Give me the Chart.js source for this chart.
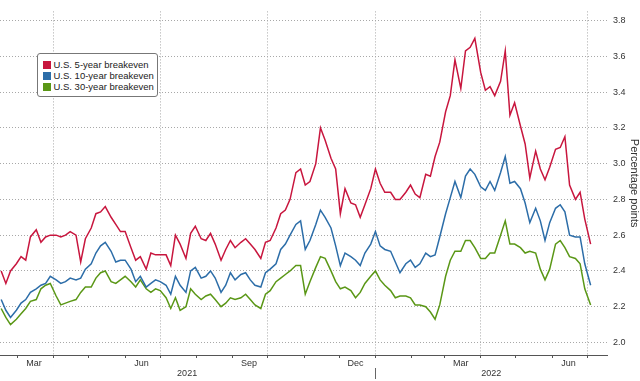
<!DOCTYPE html>
<html>
<head>
<meta charset="utf-8">
<script src="https://cdn.jsdelivr.net/npm/chart.js@4.4.1/dist/chart.umd.min.js"></script>
<style>
  html, body { margin: 0; padding: 0; background: #fff; }
  #wrap { position: relative; width: 640px; height: 381px; }
  #legend {
    position: absolute; left: 37px; top: 53px; width: 119px; height: 42px;
    border: 1px solid #777; border-radius: 3px; background: #fff;
    font-family: "Liberation Sans", Arial, sans-serif; font-size: 9.5px; color: #222;
  }
  #legend .item { position: absolute; left: 5px; height: 11px; line-height: 11px; white-space: nowrap; }
  #legend .sw { position: absolute; left: 0; top: 1.5px; width: 8px; height: 8px; }
  #legend .tx { position: absolute; left: 10.5px; top: 0; }
</style>
</head>
<body>
<div id="wrap">
  <canvas id="c" width="640" height="381"></canvas>
  <div id="legend"></div>
</div>
<script>
// ---- data ----
const dates = [
  '2021-02-15','2021-02-19','2021-02-23','2021-02-28','2021-03-04','2021-03-08','2021-03-12','2021-03-17','2021-03-21','2021-03-25',
  '2021-03-29','2021-04-03','2021-04-07','2021-04-11','2021-04-15','2021-04-20','2021-04-24','2021-04-28','2021-05-03','2021-05-07',
  '2021-05-11','2021-05-15','2021-05-20','2021-05-24','2021-05-28','2021-06-01','2021-06-06','2021-06-10','2021-06-14','2021-06-19',
  '2021-06-23','2021-06-27','2021-07-01','2021-07-06','2021-07-10','2021-07-14','2021-07-18','2021-07-23','2021-07-27','2021-07-31',
  '2021-08-05','2021-08-09','2021-08-13','2021-08-17','2021-08-22','2021-08-26','2021-08-30','2021-09-03','2021-09-08','2021-09-12',
  '2021-09-16','2021-09-20','2021-09-25','2021-09-29','2021-10-03','2021-10-08','2021-10-12','2021-10-16','2021-10-20','2021-10-25',
  '2021-10-29','2021-11-02','2021-11-06','2021-11-11','2021-11-15','2021-11-19','2021-11-24','2021-11-28','2021-12-02','2021-12-06',
  '2021-12-11','2021-12-15','2021-12-19','2021-12-23','2021-12-28','2022-01-01','2022-01-05','2022-01-09','2022-01-14','2022-01-18',
  '2022-01-22','2022-01-27','2022-01-31','2022-02-04','2022-02-08','2022-02-13','2022-02-17','2022-02-21','2022-02-25','2022-03-02',
  '2022-03-06','2022-03-10','2022-03-15','2022-03-19','2022-03-23','2022-03-27','2022-04-01','2022-04-05','2022-04-09','2022-04-13',
  '2022-04-18','2022-04-22','2022-04-26','2022-04-30','2022-05-05','2022-05-09','2022-05-13','2022-05-18','2022-05-22','2022-05-26',
  '2022-05-30','2022-06-04','2022-06-08','2022-06-12','2022-06-16','2022-06-21','2022-06-25','2022-06-29','2022-07-04'
];
const breakeven5y = [
  2.40,2.33,2.40,2.44,2.48,2.46,2.59,2.63,2.56,2.59,
  2.60,2.60,2.59,2.60,2.62,2.60,2.45,2.58,2.64,2.72,
  2.73,2.76,2.70,2.66,2.62,2.62,2.53,2.46,2.48,2.41,
  2.50,2.49,2.49,2.49,2.43,2.60,2.55,2.47,2.61,2.65,
  2.58,2.57,2.61,2.55,2.46,2.52,2.57,2.53,2.56,2.58,
  2.55,2.52,2.47,2.56,2.57,2.64,2.72,2.74,2.80,2.95,
  2.97,2.88,2.90,3.00,3.20,3.13,3.03,2.97,2.72,2.86,
  2.78,2.77,2.70,2.77,2.86,2.97,2.89,2.84,2.84,2.80,
  2.80,2.84,2.88,2.83,2.81,2.94,2.93,3.04,3.12,3.29,
  3.38,3.58,3.42,3.63,3.65,3.70,3.51,3.41,3.43,3.38,
  3.46,3.63,3.27,3.34,3.21,3.11,2.92,3.07,2.97,2.91,
  2.98,3.08,3.09,3.15,2.88,2.80,2.84,2.69,2.55
];
const breakeven10y = [
  2.24,2.18,2.14,2.18,2.22,2.24,2.28,2.30,2.32,2.33,
  2.37,2.35,2.33,2.34,2.36,2.35,2.36,2.41,2.44,2.50,
  2.54,2.56,2.51,2.45,2.46,2.46,2.41,2.34,2.37,2.31,
  2.33,2.35,2.34,2.32,2.27,2.37,2.32,2.28,2.40,2.42,
  2.36,2.37,2.40,2.36,2.28,2.32,2.39,2.35,2.38,2.39,
  2.35,2.32,2.31,2.39,2.41,2.44,2.52,2.55,2.60,2.66,
  2.68,2.52,2.57,2.66,2.74,2.70,2.64,2.54,2.43,2.50,
  2.48,2.46,2.43,2.50,2.55,2.62,2.54,2.52,2.51,2.45,
  2.39,2.44,2.46,2.42,2.44,2.50,2.48,2.49,2.59,2.72,
  2.81,2.90,2.81,2.93,2.97,2.94,2.87,2.85,2.90,2.85,
  2.95,3.04,2.89,2.90,2.86,2.78,2.67,2.75,2.68,2.57,
  2.67,2.75,2.77,2.73,2.60,2.59,2.59,2.44,2.32
];
const breakeven30y = [
  2.19,2.14,2.10,2.13,2.16,2.19,2.23,2.24,2.30,2.32,
  2.33,2.26,2.21,2.22,2.23,2.24,2.28,2.31,2.31,2.36,
  2.39,2.40,2.34,2.33,2.35,2.37,2.34,2.31,2.35,2.30,
  2.28,2.30,2.29,2.25,2.19,2.25,2.18,2.20,2.30,2.27,
  2.24,2.26,2.27,2.24,2.20,2.22,2.25,2.24,2.25,2.27,
  2.24,2.21,2.19,2.27,2.29,2.34,2.36,2.38,2.40,2.43,
  2.43,2.27,2.34,2.42,2.48,2.47,2.40,2.34,2.30,2.31,
  2.29,2.25,2.28,2.33,2.37,2.40,2.35,2.32,2.29,2.25,
  2.26,2.26,2.25,2.21,2.21,2.20,2.17,2.13,2.21,2.37,
  2.46,2.51,2.51,2.57,2.57,2.53,2.47,2.47,2.50,2.50,
  2.60,2.68,2.55,2.55,2.53,2.50,2.51,2.50,2.41,2.35,
  2.41,2.55,2.57,2.53,2.48,2.47,2.44,2.30,2.21
];
const seriesNames = ['U.S. 5-year breakeven', 'U.S. 10-year breakeven', 'U.S. 30-year breakeven'];
const seriesColors = ['#c8163e', '#2c6da8', '#5a9716'];

const yTickValues = [2.0, 2.2, 2.4, 2.6, 2.8, 3.0, 3.2, 3.4, 3.6, 3.8];
const yRange = [1.93, 3.851];
const xRangeDates = ['2021-02-14', '2022-07-18'];
const quarterGridDates = ['2021-04-01', '2021-07-01', '2021-10-01', '2022-01-01', '2022-04-01', '2022-07-01'];
const monthStartDates = ['2021-03-01', '2021-04-01', '2021-05-01', '2021-06-01', '2021-07-01', '2021-08-01', '2021-09-01',
  '2021-10-01', '2021-11-01', '2021-12-01', '2022-01-01', '2022-02-01', '2022-03-01', '2022-04-01', '2022-05-01',
  '2022-06-01', '2022-07-01'];
const monthLabelDates = ['2021-03-15', '2021-06-15', '2021-09-15', '2021-12-15', '2022-03-15', '2022-06-15'];
const monthLabels = ['Mar', 'Jun', 'Sep', 'Dec', 'Mar', 'Jun'];
const yearLabelDates = ['2021-07-24', '2022-04-10'];
const yearLabels = ['2021', '2022'];
const yearBreakDates = ['2022-01-01'];
const yAxisTitle = 'Percentage points';

// ---- helpers ----
function dayNum(s) {
  const p = s.split('-').map(Number);
  return (Date.UTC(p[0], p[1] - 1, p[2]) - Date.UTC(2021, 0, 1)) / 86400000;
}
const FONT = '"Liberation Sans", Arial, sans-serif';
const xMin = dayNum(xRangeDates[0]);
const xMax = dayNum(xRangeDates[1]);
function setTicks(list) {
  return function (scale) { scale.ticks = list.map(d => ({ value: dayNum(d) })); };
}
function fixHeight(h) { return function (scale) { scale.height = h; }; }

const seriesValues = [breakeven5y, breakeven10y, breakeven30y];
const datasets = seriesValues.map((vals, k) => ({
  label: seriesNames[k],
  data: dates.map((d, i) => ({ x: dayNum(d), y: vals[i] })),
  borderColor: seriesColors[k],
  backgroundColor: seriesColors[k],
  borderWidth: 1.5,
  pointRadius: 0,
  fill: false,
  tension: 0,
  xAxisID: 'x',
  yAxisID: 'y'
}));

new Chart(document.getElementById('c'), {
  type: 'line',
  data: { datasets: datasets },
  options: {
    responsive: false,
    animation: false,
    events: [],
    layout: { padding: 0 },
    plugins: { legend: { display: false }, tooltip: { enabled: false } },
    scales: {
      x: {
        type: 'linear', position: 'bottom', weight: 0, min: xMin, max: xMax,
        afterBuildTicks: setTicks(quarterGridDates),
        afterFit: fixHeight(0),
        ticks: { display: false },
        grid: { display: true, drawOnChartArea: true, drawTicks: true, tickLength: 3,
                color: '#a8a8a8', lineWidth: 1, tickColor: '#a8a8a8', tickBorderDash: [1, 2] },
        border: { display: true, color: '#555', width: 1, dash: [1, 2] }
      },
      xm: {
        type: 'linear', position: 'bottom', weight: 1, min: xMin, max: xMax,
        afterBuildTicks: setTicks(monthStartDates),
        afterFit: fixHeight(0),
        ticks: { display: false },
        grid: { display: true, drawOnChartArea: false, drawTicks: true, tickLength: 3, tickColor: '#555', tickWidth: 1 },
        border: { display: false }
      },
      xl: {
        type: 'linear', position: 'bottom', weight: 2, min: xMin, max: xMax,
        afterBuildTicks: setTicks(monthLabelDates),
        afterFit: fixHeight(13),
        ticks: { display: true, autoSkip: false, maxRotation: 0, minRotation: 0, padding: 3,
                 color: '#333', font: { family: FONT, size: 9 },
                 callback: (v, i) => monthLabels[i] },
        grid: { display: false, drawTicks: false, drawOnChartArea: false },
        border: { display: false }
      },
      xs: {
        type: 'linear', position: 'bottom', weight: 3, min: xMin, max: xMax,
        afterBuildTicks: setTicks(yearBreakDates),
        afterFit: fixHeight(0),
        ticks: { display: false },
        grid: { display: true, drawOnChartArea: false, drawTicks: true, tickLength: 11, tickColor: '#666', tickWidth: 1 },
        border: { display: false }
      },
      xy: {
        type: 'linear', position: 'bottom', weight: 4, min: xMin, max: xMax,
        afterBuildTicks: setTicks(yearLabelDates),
        afterFit: fixHeight(13),
        ticks: { display: true, autoSkip: false, maxRotation: 0, minRotation: 0, padding: 0,
                 color: '#333', font: { family: FONT, size: 9 },
                 callback: (v, i) => yearLabels[i] },
        grid: { display: false, drawTicks: false, drawOnChartArea: false },
        border: { display: false }
      },
      y: {
        type: 'linear', position: 'right', min: yRange[0], max: yRange[1],
        afterBuildTicks: function (scale) { scale.ticks = yTickValues.map(v => ({ value: v })); },
        afterFit: function (scale) { scale.width = 33; },
        ticks: { padding: 6, color: '#333', font: { family: FONT, size: 9 },
                 callback: v => Number(v).toFixed(1) },
        grid: { display: true, drawOnChartArea: true, drawTicks: false, color: '#a8a8a8', lineWidth: 1 },
        border: { display: false, dash: [1, 2] },
        title: { display: true, text: yAxisTitle, color: '#333',
                 font: { family: FONT, size: 11, lineHeight: 1 }, padding: { top: 0, bottom: 0 } }
      }
    }
  }
});

// legend built from the series
const legendEl = document.getElementById('legend');
seriesNames.forEach((name, k) => {
  const item = document.createElement('div');
  item.className = 'item';
  item.style.top = (5 + 11 * k) + 'px';
  const sw = document.createElement('span');
  sw.className = 'sw';
  sw.style.background = seriesColors[k];
  const tx = document.createElement('span');
  tx.className = 'tx';
  tx.textContent = name;
  item.appendChild(sw);
  item.appendChild(tx);
  legendEl.appendChild(item);
});
</script>
</body>
</html>
